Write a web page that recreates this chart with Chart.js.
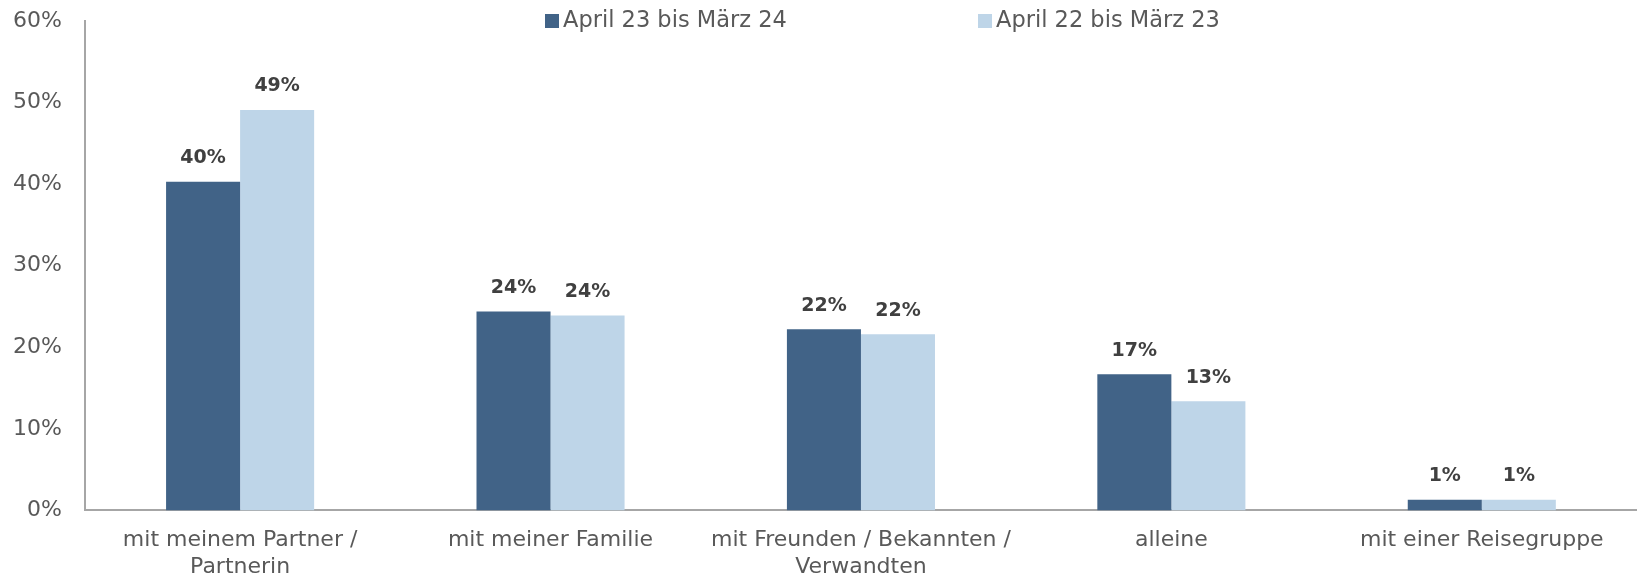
<!DOCTYPE html>
<html>
<head>
<meta charset="utf-8">
<title>Reisebegleitung</title>
<script src="https://cdn.jsdelivr.net/npm/chart.js@4/dist/chart.umd.min.js"></script>
<style>
    body { margin: 0; background: #ffffff; }
    #wrap { width: 1637px; height: 576px; position: relative; }
</style>
</head>
<body>
<div id="wrap"><canvas id="chart"></canvas></div>
<script>
// Kategorien und Werte (in %)
const categories = [
    ['mit meinem Partner /', 'Partnerin'],
    'mit meiner Familie',
    ['mit Freunden / Bekannten /', 'Verwandten'],
    'alleine',
    'mit einer Reisegruppe'
];
const seriesNames = ['April 23 bis März 24', 'April 22 bis März 23'];
const values2324 = [40.3, 24.4, 22.2, 16.7, 1.3];
const values2223 = [49.1, 23.9, 21.6, 13.4, 1.3];
const yTicks = [0, 10, 20, 30, 40, 50, 60];

const darkBlue = '#416387';
const lightBlue = '#bed5e8';
const fontFamily = '"DejaVu Sans", sans-serif';

// Wertbeschriftungen über den Balken
const valueLabels = {
    id: 'valueLabels',
    afterDatasetsDraw(chart) {
        const ctx = chart.ctx;
        ctx.save();
        ctx.font = 'bold 19px ' + fontFamily;
        ctx.fillStyle = '#404040';
        ctx.textAlign = 'center';
        ctx.textBaseline = 'bottom';
        chart.data.datasets.forEach(function(ds, i) {
            chart.getDatasetMeta(i).data.forEach(function(bar, j) {
                ctx.fillText(Math.round(ds.data[j]) + '%', bar.x, bar.y - 14);
            });
        });
        ctx.restore();
    }
};

// Legende oben, innerhalb der Zeichenfläche
const topLegend = {
    id: 'topLegend',
    afterDraw(chart) {
        const ctx = chart.ctx;
        const positions = [545, 978];
        const y = chart.chartArea.top;
        ctx.save();
        ctx.font = '22.5px ' + fontFamily;
        ctx.textBaseline = 'middle';
        ctx.textAlign = 'left';
        chart.data.datasets.forEach(function(ds, i) {
            ctx.fillStyle = ds.backgroundColor;
            ctx.fillRect(positions[i], y - 7, 14, 14);
            ctx.fillStyle = '#595959';
            ctx.fillText(ds.label, positions[i] + 18, y);
        });
        ctx.restore();
    }
};

new Chart(document.getElementById('chart'), {
    type: 'bar',
    data: {
        labels: categories,
        datasets: [
            { label: seriesNames[0], data: values2324, backgroundColor: darkBlue },
            { label: seriesNames[1], data: values2223, backgroundColor: lightBlue }
        ]
    },
    options: {
        responsive: true,
        maintainAspectRatio: false,
        animation: false,
        layout: { padding: { top: 21, right: 0, left: -10, bottom: -21 } },
        datasets: {
            bar: { barPercentage: 1, categoryPercentage: 0.477 }
        },
        plugins: {
            legend: { display: false },
            tooltip: { enabled: false }
        },
        scales: {
            x: {
                grid: { display: false, drawTicks: false },
                border: { color: '#a6a6a6', width: 2 },
                ticks: {
                    color: '#595959',
                    font: { family: fontFamily, size: 22, lineHeight: 1.24 },
                    padding: 16,
                    maxRotation: 0
                }
            },
            y: {
                min: yTicks[0],
                max: yTicks[yTicks.length - 1],
                afterBuildTicks: function(axis) {
                    axis.ticks = yTicks.map(function(v) { return { value: v }; });
                },
                afterFit: function(axis) {
                    // Tick-Abstand nicht als Rand oben/unten verwenden
                    axis.paddingTop = 0;
                    axis.paddingBottom = 0;
                },
                grid: { display: false, drawTicks: false },
                border: { color: '#a6a6a6', width: 2 },
                ticks: {
                    color: '#595959',
                    font: { family: fontFamily, size: 22 },
                    padding: 23,
                    callback: function(v) { return v + '%'; }
                }
            }
        }
    },
    plugins: [valueLabels, topLegend]
});
</script>
</body>
</html>
